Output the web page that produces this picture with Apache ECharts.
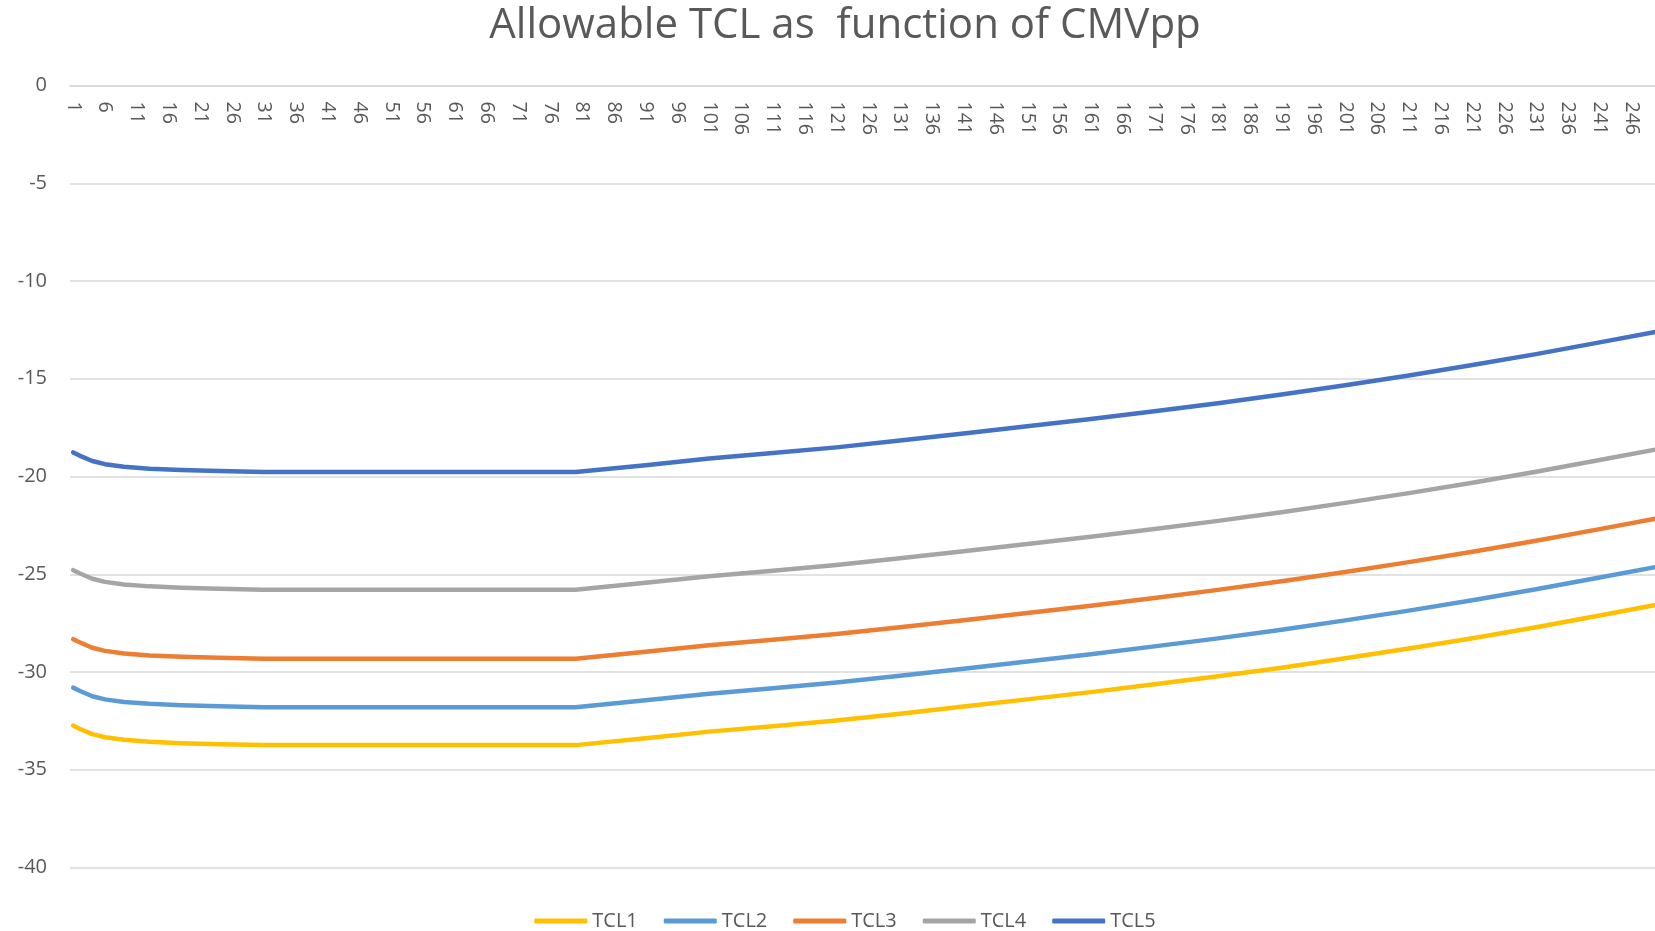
<!DOCTYPE html>
<html>
<head>
<meta charset="utf-8">
<script src="https://cdn.jsdelivr.net/npm/echarts@6/dist/echarts.min.js"></script>
<style>
  html, body { margin: 0; padding: 0; background: #fff; overflow: hidden; }
  #chart { width: 1690px; height: 931px; }
</style>
</head>
<body>
<div id="chart"></div>
<script>
// CMVpp category labels 1..251 (the axis shows every 5th)
const categories = Array.from({ length: 251 }, (_, i) => String(i + 1));

const samplePoints = [1, 2, 4, 6, 9, 13, 18, 24, 31, 80, 91, 101, 111, 121, 131, 141, 151, 161, 171, 181, 191, 201, 211, 221, 231, 241, 251];

const tcl1 = [-32.74, -32.90, -33.18, -33.34, -33.47, -33.57, -33.64, -33.69, -33.74, -33.74, -33.39, -33.05, -32.77, -32.48, -32.13, -31.77, -31.40, -31.03, -30.63, -30.22, -29.78, -29.30, -28.80, -28.27, -27.71, -27.11, -26.50];
const tcl2 = [-30.80, -30.96, -31.24, -31.40, -31.53, -31.63, -31.70, -31.75, -31.80, -31.80, -31.45, -31.11, -30.83, -30.54, -30.19, -29.83, -29.46, -29.09, -28.69, -28.28, -27.84, -27.36, -26.86, -26.33, -25.77, -25.17, -24.56];
const tcl3 = [-28.32, -28.48, -28.76, -28.92, -29.05, -29.15, -29.22, -29.27, -29.32, -29.32, -28.97, -28.63, -28.35, -28.06, -27.71, -27.35, -26.98, -26.61, -26.21, -25.80, -25.36, -24.88, -24.38, -23.85, -23.29, -22.69, -22.08];
const tcl4 = [-24.79, -24.95, -25.23, -25.39, -25.52, -25.62, -25.69, -25.74, -25.79, -25.79, -25.44, -25.10, -24.82, -24.53, -24.18, -23.82, -23.45, -23.08, -22.68, -22.27, -21.83, -21.35, -20.85, -20.32, -19.76, -19.16, -18.55];
const tcl5 = [-18.77, -18.93, -19.21, -19.37, -19.50, -19.60, -19.67, -19.72, -19.77, -19.77, -19.42, -19.08, -18.80, -18.51, -18.16, -17.80, -17.43, -17.06, -16.66, -16.25, -15.81, -15.33, -14.83, -14.30, -13.74, -13.14, -12.53];

const seriesNames = ['TCL1', 'TCL2', 'TCL3', 'TCL4', 'TCL5'];
const seriesValues = [tcl1, tcl2, tcl3, tcl4, tcl5];
const colors = ['#FFC000', '#5B9BD5', '#ED7D31', '#A5A5A5', '#4472C4'];

const textColor = '#595959';
const gridColor = '#D9D9D9';
const font = "'Open Sans', 'Liberation Sans', sans-serif";

const chart = echarts.init(document.getElementById('chart'), null, { renderer: 'canvas' });

chart.setOption({
    animation: false,
    color: colors,
    title: {
        text: 'Allowable TCL as  function of CMVpp',
        left: 'center',
        top: 0,
        textStyle: { color: textColor, fontFamily: font, fontSize: 42, fontWeight: 'normal' }
    },
    legend: {
        data: seriesNames,
        left: 'center',
        top: 906,
        icon: 'roundRect',
        itemWidth: 53,
        itemHeight: 5,
        itemGap: 26,
        textStyle: { color: textColor, fontFamily: font, fontSize: 20 }
    },
    grid: { left: 70, top: 85.5, height: 782, right: 23.6, containLabel: false },
    xAxis: {
        type: 'category',
        position: 'top',
        data: categories,
        boundaryGap: true,
        axisLine: { show: true, onZero: false, lineStyle: { color: gridColor, width: 1.5 } },
        axisTick: { show: false },
        axisLabel: {
            inside: true,
            interval: 4,
            rotate: 90,
            margin: 16,
            color: textColor,
            fontFamily: font,
            fontSize: 19.5
        },
        splitLine: { show: false }
    },
    yAxis: {
        type: 'value',
        min: -40,
        max: 0,
        interval: 5,
        axisLine: { show: false },
        axisTick: { show: false },
        axisLabel: { color: textColor, fontFamily: font, fontSize: 20, margin: 23 },
        splitLine: { lineStyle: { color: gridColor, width: 1.5 } }
    },
    series: seriesNames.map((name, k) => ({
        name: name,
        type: 'line',
        symbol: 'none',
        smooth: false,
        clip: true,
        lineStyle: { width: 4.5, cap: 'round', join: 'round' },
        data: samplePoints.map((c, i) => [String(c), seriesValues[k][i]])
    }))
});
</script>
</body>
</html>
